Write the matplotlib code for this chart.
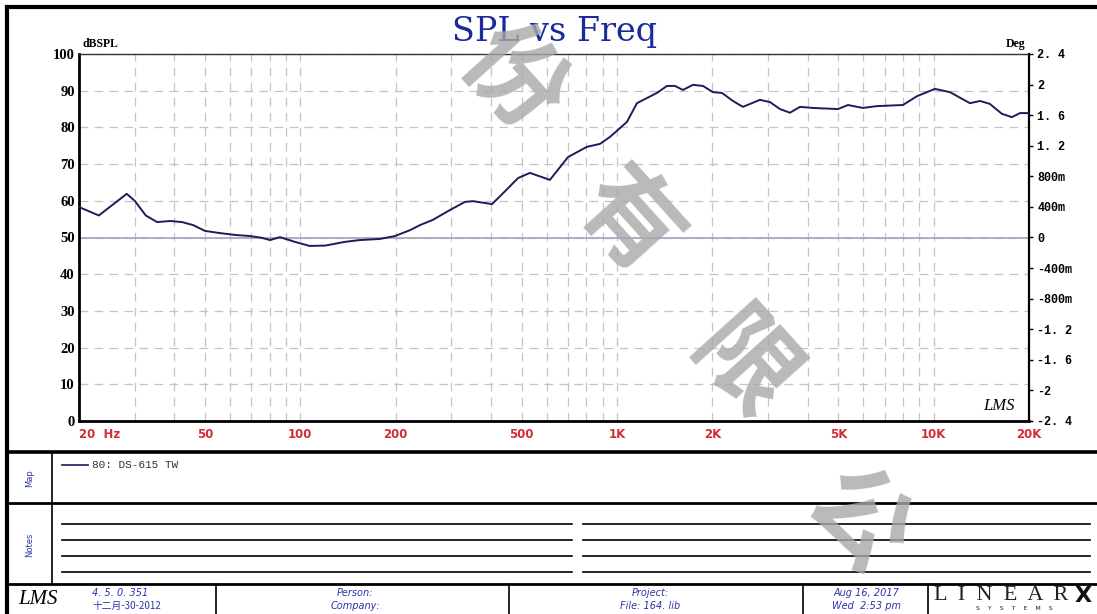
import matplotlib.pyplot as plt
from matplotlib.ticker import FixedLocator

# frequency response
freq = [20, 23.1, 28.3, 30, 32.5, 35.3, 38.8, 42.3, 45.8, 50,
        55.7, 62.2, 69.3, 75.7, 80.2, 86.2, 96.2, 107, 120, 138,
        154, 178, 199, 222, 239, 262, 297, 331, 351, 403,
        437, 487, 531, 614, 700, 803, 883, 950, 1075, 1156,
        1243, 1337, 1438, 1524, 1615, 1737, 1868, 2009, 2145, 2323,
        2498, 2827, 3041, 3271, 3518, 3783, 4157, 4984, 5362, 5977,
        6618, 7996, 8855, 10093, 11259, 13020, 14020, 15048, 16420, 17670,
        18730, 20000]
spl = [58.3, 56.0, 61.9, 60.0, 56.0, 54.2, 54.5, 54.2, 53.4, 51.8,
       51.2, 50.7, 50.4, 49.9, 49.3, 50.1, 48.8, 47.7, 47.8, 48.8,
       49.3, 49.6, 50.4, 52.0, 53.4, 54.8, 57.5, 59.7, 59.9, 59.1,
       62.1, 66.2, 67.6, 65.7, 71.9, 74.7, 75.5, 77.4, 81.5, 86.6,
       88.0, 89.4, 91.3, 91.3, 90.2, 91.6, 91.3, 89.6, 89.4, 87.2,
       85.6, 87.5, 86.9, 85.0, 84.0, 85.6, 85.3, 85.0, 86.1, 85.3,
       85.8, 86.1, 88.5, 90.5, 89.6, 86.6, 87.2, 86.4, 83.7, 82.8,
       83.9, 83.9]

xticks = [20, 50, 100, 200, 500, 1000, 2000, 5000, 10000, 20000]
xlabels = ['20  Hz', '50', '100', '200', '500', '1K', '2K', '5K', '10K', '20K']
grid_f = [m * d for d in (10, 100, 1000) for m in range(2, 10)] + [10000, 20000]
yticks = list(range(0, 101, 10))
deg_ticks = [-2.4, -2.0, -1.6, -1.2, -0.8, -0.4, 0, 0.4, 0.8, 1.2, 1.6, 2.0, 2.4]
deg_labels = ['-2. 4', '-2', '-1. 6', '-1. 2', '-800m', '-400m', '0',
              '400m', '800m', '1. 2', '1. 6', '2', '2. 4']
watermark = '份有限公'

W, H = 1097, 614
fig = plt.figure(figsize=(W / 100, H / 100), dpi=100)

# page frame, drawn in pixel units
bg = fig.add_axes([0, 0, 1, 1])
bg.set_xlim(0, W)
bg.set_ylim(H, 0)
bg.axis('off')
bg.plot([6.5, W + 5], [6.5, 6.5], color='black', lw=3)
bg.plot([6.5, 6.5], [6.5, H + 5], color='black', lw=3)
bg.plot([6.5, W + 5], [452, 452], color='black', lw=2.6)
bg.plot([6.5, W + 5], [503, 503], color='black', lw=2)
bg.plot([6.5, W + 5], [584, 584], color='black', lw=2)
bg.plot([52, 52], [452, 584], color='black', lw=1.2)
for xv in (216, 509, 803, 928):
    bg.plot([xv, xv], [584, H + 5], color='black', lw=1.2)
for yv in (524, 540, 556, 572):
    bg.plot([62, 572], [yv, yv], color='black', lw=1.2)
    bg.plot([583, 1090], [yv, yv], color='black', lw=1.2)

blue = '#2a35a8'
bg.text(30, 478, 'Map', rotation=90, ha='center', va='center', fontsize=6, color=blue)
bg.text(30, 545, 'Notes', rotation=90, ha='center', va='center', fontsize=6, color=blue)
bg.plot([62, 88], [465, 465], color='#1c1c5a', lw=1.2)
bg.text(92, 465, '80: DS-615 TW', ha='left', va='center', fontsize=8,
        family='Liberation Mono', color='#333333')

bg.text(18, 599, 'LMS', ha='left', va='center', fontsize=15, style='italic',
        family='Liberation Serif', color='black')
bg.text(92, 593, '4. 5. 0. 351', ha='left', va='center', fontsize=7, style='italic', color=blue)
bg.text(92, 606, '十二月-30-2012', ha='left', va='center', fontsize=7, style='italic',
        color=blue, family=['Noto Sans CJK SC', 'DejaVu Sans'])
bg.text(355, 593, 'Person:', ha='center', va='center', fontsize=7, style='italic', color=blue)
bg.text(355, 606, 'Company:', ha='center', va='center', fontsize=7, style='italic', color=blue)
bg.text(650, 593, 'Project:', ha='center', va='center', fontsize=7, style='italic', color=blue)
bg.text(650, 606, 'File: 164. lib', ha='center', va='center', fontsize=7, style='italic', color=blue)
bg.text(866, 593, 'Aug 16, 2017', ha='center', va='center', fontsize=7, style='italic', color=blue)
bg.text(866, 606, 'Wed  2:53 pm', ha='center', va='center', fontsize=7, style='italic', color=blue)
bg.text(934, 596, 'L  I  N  E  A  R', ha='left', va='center', fontsize=16,
        family='Liberation Serif', color='#222222')
bg.text(1092, 596, 'X', ha='right', va='center', fontsize=16, fontweight='heavy',
        family='DejaVu Sans', color='#111111')
bg.text(1014, 609, 'S    Y    S    T    E    M    S', ha='center', va='center', fontsize=4.5,
        color='#222222')

bg.text(555, 32, 'SPL vs Freq', ha='center', va='center', fontsize=24,
        family='DejaVu Serif', color='#1a2a9a')

# main plot
ax = fig.add_axes([79 / W, 1 - 421 / H, 950 / W, 367 / H])
ax.set_xscale('log')
ax.set_xlim(20, 20000)
ax.set_ylim(0, 100)
ax.xaxis.set_minor_locator(FixedLocator(grid_f))
ax.set_xticks(xticks)
ax.set_xticklabels(xlabels)
ax.set_yticks(yticks)
ax.set_yticklabels([str(v) for v in yticks])
ax.tick_params(which='both', length=0)
ax.tick_params(axis='x', pad=5, colors='#d42a3a', labelsize=8.5)
ax.tick_params(axis='y', pad=3, labelsize=10.5)
for lab in ax.get_xticklabels():
    lab.set_fontweight('bold')
    lab.set_color('#d42a3a')
ax.get_xticklabels()[0].set_ha('left')
for lab in ax.get_yticklabels():
    lab.set_fontweight('bold')
    lab.set_family('Liberation Serif')

ax.grid(True, which='both', axis='x', color='#c4c4c4', lw=0.9, ls=(0, (7, 5)))
ax.grid(True, which='major', axis='y', color='#c4c4c4', lw=0.9, ls=(0, (7, 5)))
ax.axhline(50, color='#a8a8c8', lw=1.3)
ax.plot(freq, spl, color='#1c1c5a', lw=1.4, zorder=5)

ax.spines['left'].set_linewidth(2)
ax.spines['bottom'].set_linewidth(2)
ax.spines['right'].set_linewidth(1.6)
ax.spines['top'].set_linewidth(1)
ax.spines['top'].set_color('#333333')

ax.text(20.5, 101, 'dBSPL', ha='left', va='bottom', fontsize=8.5, fontweight='bold',
        family='Liberation Serif')
ax.text(19500, 101, 'Deg', ha='right', va='bottom', fontsize=8.5, fontweight='bold',
        family='Liberation Serif')
ax.text(0.985, 0.04, 'LMS', transform=ax.transAxes, ha='right', va='center',
        fontsize=12, style='italic', family='Liberation Serif')

ax2 = ax.twinx()
ax2.set_ylim(-2.4, 2.4)
ax2.set_yticks(deg_ticks)
ax2.set_yticklabels(deg_labels)
ax2.tick_params(length=3, width=1, pad=3, labelsize=8.5)
for lab in ax2.get_yticklabels():
    lab.set_fontweight('bold')
    lab.set_family('Liberation Mono')
for s in ax2.spines.values():
    s.set_visible(False)

# diagonal watermark
for ch, (px, py) in zip(watermark, [(512, 80), (628, 222), (742, 368), (856, 522)]):
    fig.text(px / W, 1 - py / H, ch, ha='center', va='center', fontsize=72, rotation=-48,
             fontweight='bold', color='#a8a8a8', alpha=0.8,
             family=['Noto Sans CJK SC', 'DejaVu Sans'], zorder=10)

fig.savefig('out.png', dpi=100)
